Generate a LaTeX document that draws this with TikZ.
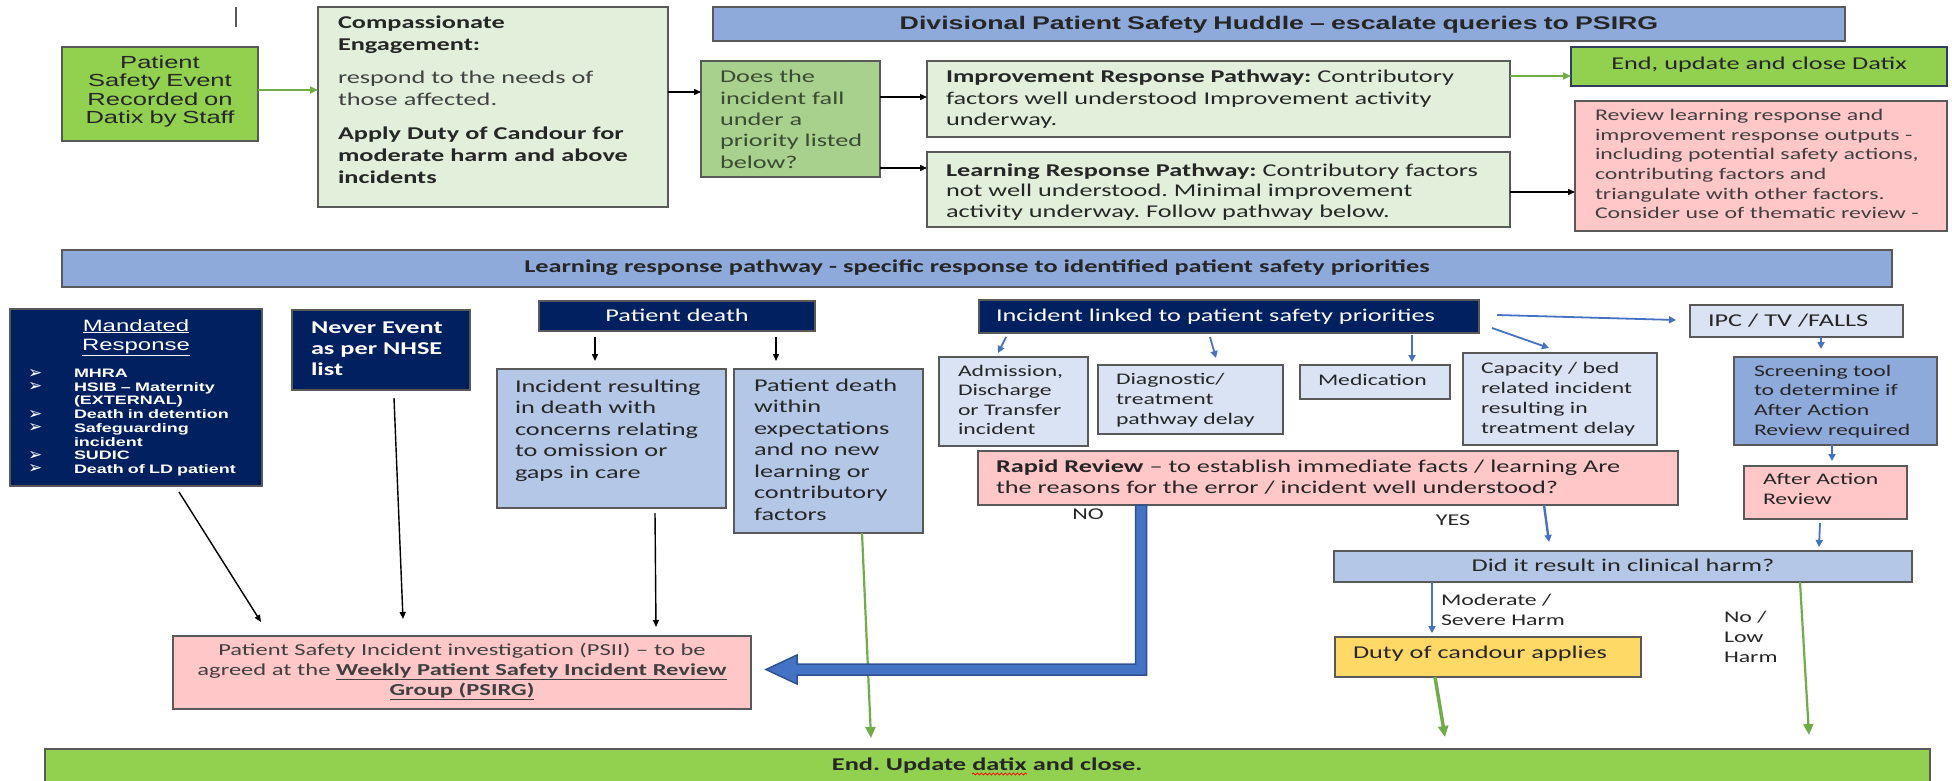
\documentclass[tikz,border=0pt]{standalone}
\usepackage{fontspec}
\usetikzlibrary{arrows.meta,calc,decorations.pathmorphing}
\setmainfont{Carlito}[FakeStretch=1.46]
\newfontfamily\arf{Liberation Sans}[FakeStretch=1.46]
\newfontfamily\djv{DejaVu Sans}
\newcommand\fsz[2]{\fontsize{#1}{#2}\selectfont}
\newcommand\blt{\smash{\djv\fsz{17}{17}➢}}
\frenchspacing
\definecolor{gfill}{HTML}{92D050}
\definecolor{lgfill}{HTML}{E2EFDA}
\definecolor{mgfill}{HTML}{A9D18E}
\definecolor{hblue}{HTML}{8EAADB}
\definecolor{lblue}{HTML}{B4C7E7}
\definecolor{vlblue}{HTML}{DAE3F3}
\definecolor{pinkf}{HTML}{FFC7C7}
\definecolor{yellowf}{HTML}{FFD966}
\definecolor{navy}{HTML}{002060}
\definecolor{bgray}{HTML}{595959}
\definecolor{endborder}{HTML}{2F3E5E}
\definecolor{arrgreen}{HTML}{70AD47}
\definecolor{arrblue}{HTML}{4472C4}
\definecolor{darkblue}{HTML}{2F528F}
\definecolor{tdark}{HTML}{262626}
\definecolor{tgray}{HTML}{404040}
\definecolor{tolive}{HTML}{3B4A33}
\begin{document}
\begin{tikzpicture}[x=1pt,y=-1pt,
  box/.style={draw=bgray, line width=1.6pt, inner sep=0pt, outer sep=0pt, anchor=north west},
  tl/.style={inner sep=0pt, outer sep=0pt, anchor=base west, align=left, text width=900pt},
  tc/.style={inner sep=0pt, outer sep=0pt, anchor=base, align=center, text width=#1},
  blk/.style={draw=black, line width=1.4pt, -{Triangle[length=7pt,width=6pt]}},
  grn/.style={draw=arrgreen, line width=1.8pt, -{Triangle[length=8pt,width=7pt]}},
  grnt/.style={draw=arrgreen, line width=#1, -{Triangle[length=11pt,width=10pt]}},
  blu/.style={draw=arrblue, line width=1.8pt, -{Triangle[length=7pt,width=7pt]}}]
\useasboundingbox (0,0) rectangle (1952,781);
\fill[white] (0,0) rectangle (1952,781);

\draw[bgray, line width=1.3pt] (236,7) -- (236,27);

% ---------- top row ----------
\node[box, fill=gfill, minimum width=196pt, minimum height=94pt] (pat) at (62,47) {};
\node[tc=196pt, text=tdark, font={\arf\fsz{17.5}{18.4}}] (patT) at (160,68.5) {Patient\\Safety Event\\Recorded on\\Datix by Staff};

\node[box, fill=lgfill, minimum width=350pt, minimum height=200pt] (comp) at (318,7) {};
\node[tl, text=tdark, font={\fsz{18}{22}}] (compT) at (338,29) {\textbf{Compassionate}\\\textbf{Engagement:}\\[11pt]\textcolor{tgray}{respond to the needs of}\\\textcolor{tgray}{those affected.}\\[12pt]\textbf{Apply Duty of Candour for}\\\textbf{moderate harm and above}\\\textbf{incidents}};

\node[box, fill=mgfill, minimum width=179pt, minimum height=116pt] (does) at (701,61) {};
\node[tl, text=tolive, font={\fsz{18}{21.3}}] (doesT) at (720,83) {Does the\\incident fall\\under a\\priority listed\\below?};

\node[box, fill=hblue, minimum width=1132pt, minimum height=34pt] (div) at (713,7) {};
\node[tc=1132pt, text=tdark, font={\arf\bfseries\fsz{18.3}{20}}] (divT) at (1279,29.5) {Divisional Patient Safety Huddle – escalate queries to PSIRG};

\node[box, fill=lgfill, minimum width=583pt, minimum height=76pt] (imp) at (927,61) {};
\node[tl, text=tdark, font={\fsz{18}{21.5}}] (impT) at (946,83) {\textbf{Improvement Response Pathway:} Contributory\\factors well understood Improvement activity\\underway.};

\node[box, fill=lgfill, minimum width=583pt, minimum height=75pt] (lrn) at (927,152) {};
\node[tl, text=tdark, font={\fsz{18}{20.5}}] (lrnT) at (946,176) {\textbf{Learning Response Pathway:} Contributory factors\\not well understood. Minimal improvement\\activity underway. Follow pathway below.};

\node[box, draw=endborder, fill=gfill, minimum width=376pt, minimum height=39pt] (endd) at (1571,47) {};
\node[tc=376pt, text=tdark, font={\fsz{18}{20}}] (enddT) at (1759,69.5) {End, update and close Datix};

\node[box, fill=pinkf, minimum width=372pt, minimum height=130pt] (rev) at (1575,101) {};
\node[tl, text=tgray, font={\fsz{16.3}{19.7}}] (revT) at (1595,120.5) {Review learning response and\\improvement response outputs -\\including potential safety actions,\\contributing factors and\\triangulate with other factors.\\Consider use of thematic review -};

% ---------- learning header ----------
\node[box, fill=hblue, minimum width=1830pt, minimum height=37pt] (lhd) at (62,250) {};
\node[tc=1830pt, text=tdark, font={\bfseries\fsz{18}{20}}] (lhdT) at (977,272.5) {Learning response pathway - specific response to identified patient safety priorities};

% ---------- mandated ----------
\node[box, fill=navy, minimum width=252pt, minimum height=177pt] (mand) at (10,309) {};
\node[tc=252pt, text=white, font={\arf\fsz{16.4}{19}}] (mandT) at (136,331) {\underline{Mandated}\\\underline{Response}};
\node[tl, text=white, font={\fsz{12.3}{13.7}}] (mandB) at (28,378) {\blt\\\blt\\\mbox{}\\\blt\\\blt\\\mbox{}\\\blt\\\blt};
\node[tl, text=white, font={\arf\bfseries\fsz{12.3}{13.7}}] (mandL) at (74,377.5) {MHRA\\HSIB – Maternity\\(EXTERNAL)\\Death in detention\\Safeguarding\\incident\\SUDIC\\Death of LD patient};

\node[box, fill=navy, minimum width=178pt, minimum height=80pt] (never) at (292,310) {};
\node[tl, text=white, font={\bfseries\fsz{18}{21}}] (neverT) at (311,333) {Never Event\\as per NHSE\\list};

% ---------- patient death ----------
\node[box, fill=navy, minimum width=276pt, minimum height=30pt] (pdh) at (539,301) {};
\node[tc=276pt, text=white, font={\fsz{18}{20}}] (pdhT) at (677,321.5) {Patient death};

\node[box, fill=lblue, minimum width=229pt, minimum height=139pt] (ird) at (497,369) {};
\node[tl, text=tdark, font={\fsz{18}{21.5}}] (irdT) at (515,392) {Incident resulting\\in death with\\concerns relating\\to omission or\\gaps in care};

\node[box, fill=lblue, minimum width=189pt, minimum height=164pt] (pdw) at (734,369) {};
\node[tl, text=tdark, font={\fsz{18}{21.5}}] (pdwT) at (754,391) {Patient death\\within\\expectations\\and no new\\learning or\\contributory\\factors};

% ---------- incident linked ----------
\node[box, fill=navy, minimum width=500pt, minimum height=33pt] (ilh) at (979,300) {};
\node[tl, text=white, font={\fsz{18}{20}}] (ilhT) at (996,321.5) {Incident linked to patient safety priorities};

\node[box, fill=vlblue, minimum width=149pt, minimum height=89pt] (adm) at (939,357) {};
\node[tl, text=tdark, font={\fsz{16.2}{19.6}}] (admT) at (958,376) {Admission,\\Discharge\\or Transfer\\incident};

\node[box, fill=vlblue, minimum width=185pt, minimum height=69pt] (diag) at (1098,365) {};
\node[tl, text=tdark, font={\fsz{16.2}{20}}] (diagT) at (1116,384) {Diagnostic/\\treatment\\pathway delay};

\node[box, fill=vlblue, minimum width=150pt, minimum height=34pt] (med) at (1300,365) {};
\node[tl, text=tdark, font={\fsz{16.2}{20}}] (medT) at (1318,385) {Medication};

\node[box, fill=vlblue, minimum width=194pt, minimum height=92pt] (cap) at (1463,353) {};
\node[tl, text=tdark, font={\fsz{16.2}{20}}] (capT) at (1481,373) {Capacity / bed\\related incident\\resulting in\\treatment delay};

\node[box, fill=vlblue, minimum width=213pt, minimum height=32pt] (ipc) at (1690,305) {};
\node[tl, text=tdark, font={\fsz{18}{20}}] (ipcT) at (1708,326.5) {IPC / TV /FALLS};

\node[box, fill=hblue, minimum width=203pt, minimum height=88pt] (scr) at (1734,357) {};
\node[tl, text=tdark, font={\fsz{16.2}{19.7}}] (scrT) at (1754,376) {Screening tool\\to determine if\\After Action\\Review required};

\node[box, fill=pinkf, minimum width=163pt, minimum height=53pt] (aar) at (1744,466) {};
\node[tl, text=tdark, font={\fsz{16.2}{20}}] (aarT) at (1763,484) {After Action\\Review};

\node[box, fill=pinkf, minimum width=700pt, minimum height=54pt] (rr) at (978,451) {};
\node[tl, text=tdark, font={\fsz{18}{21}}] (rrT) at (996,472.5) {\textbf{Rapid Review} – to establish immediate facts / learning Are\\the reasons for the error / incident well understood?};

\node[tc=60pt, text=tdark, font={\fsz{16.5}{20}}] (noL) at (1088,519.5) {NO};
\node[tc=60pt, text=tdark, font={\fsz{16.5}{20}}] (yesL) at (1453,525.5) {YES};

\node[box, fill=lblue, minimum width=578pt, minimum height=31pt] (did) at (1334,551) {};
\node[tc=578pt, text=tdark, font={\fsz{18}{20}}] (didT) at (1623,571.5) {Did it result in clinical harm?};

\node[tl, text=tdark, font={\fsz{16.3}{20}}] (modL) at (1441,605) {Moderate /\\Severe Harm};
\node[tl, text=tdark, font={\fsz{16.3}{20}}] (lowL) at (1724,622) {No /\\Low\\Harm};

\node[box, fill=yellowf, minimum width=306pt, minimum height=40pt] (duty) at (1335,637) {};
\node[tl, text=tdark, font={\fsz{18}{20}}] (dutyT) at (1353,658.5) {Duty of candour applies};

\node[box, fill=pinkf, minimum width=578pt, minimum height=73pt] (psii) at (173,636) {};
\node[tc=578pt, text=tgray, font={\fsz{16.8}{20}}] (psiiT) at (462,655) {Patient Safety Incident investigation (PSII) – to be\\agreed at the \textbf{\underline{Weekly Patient Safety Incident Review}}\\\textbf{\underline{Group (PSIRG)}}};

\node[box, fill=gfill, minimum width=1885pt, minimum height=50pt] (bot) at (45,749) {};
\node[inner sep=0pt, anchor=base, text=tdark, font={\bfseries\fsz{18}{20}}] (botD) at (999.5,770.5) {datix};
\node[inner sep=0pt, anchor=base east, text=tdark, font={\bfseries\fsz{18}{20}}] (botA) at ($(botD.base west)+(-5.9,0)$) {End. Update};
\node[inner sep=0pt, anchor=base west, text=tdark, font={\bfseries\fsz{18}{20}}] (botB) at ($(botD.base east)+(5.9,0)$) {and close.};
\draw[red, line width=0.8pt, decorate, decoration={snake, amplitude=1pt, segment length=4pt}] ($(botD.base west)+(0,3.5)$) -- ($(botD.base east)+(0,3.5)$);

% ---------- connectors ----------
\draw[grn] ($(pat.east)+(0,-4)$) -- ($(comp.west)+(0,-17)$);
\draw[blk] ($(comp.east)+(0,-15)$) -- ($(does.west)+(0,-27)$);
\draw[blk] ($(does.east)+(0,-22)$) -- ($(imp.west)+(0,-2)$);
\draw[blk] ($(does.east)+(0,49)$) -- ($(lrn.west)+(0,-21.5)$);
\draw[grn] ($(imp.east)+(0,-23)$) -- ($(endd.west)+(0,9.5)$);
\draw[blk] ($(lrn.east)+(0,2.5)$) -- ($(rev.west)+(0,26)$);
\draw[blk] ($(pdh.south)+(-82,6)$) -- ($(ird.north)+(-16.5,-8)$);
\draw[blk] ($(pdh.south)+(99,6)$) -- ($(pdw.north)+(-52.5,-8)$);
\draw[blu] ($(ilh.south)+(-223,4)$) -- ($(adm.north)+(-15.5,-4)$);
\draw[blu] ($(ilh.south)+(-19,4)$) -- ($(diag.north)+(25.5,-7)$);
\draw[blu] ($(ilh.south)+(183,2)$) -- ($(med.north)+(37,-3)$);
\draw[blu] ($(ilh.east)+(13,11.5)$) -- ($(cap.north)+(-11,-5)$);
\draw[blu] ($(ilh.east)+(18,-1.5)$) -- ($(ipc.west)+(-14,-1)$);
\draw[blu] ($(ipc.south)+(24.5,0)$) -- ($(scr.north)+(-14.5,-8)$);
\draw[blu] ($(scr.south)+(-3.5,0)$) -- ($(aar.north)+(6.5,-5)$);
\draw[blu] ($(aar.south)+(-5.5,4)$) -- ($(did.north)+(196,-4)$);
\draw[blu, line width=2.4pt] ($(rr.south)+(216,0)$) -- ($(did.north)+(-74,-9)$);
\draw[blu] ($(did.south)+(-191,0)$) -- ($(duty.north)+(-56,-4)$);
\draw[grnt=2.2pt] ($(did.south)+(177,0)$) -- ($(bot.north)+(821.5,-14)$);
\draw[grnt=3.5pt] ($(duty.south)+(-53,0)$) -- ($(bot.north)+(457.5,-12)$);
\draw[grnt=2.2pt] ($(pdw.south)+(33.5,0)$) -- ($(bot.north)+(-116.5,-11)$);
\draw[blk] ($(mand.south)+(43,6)$) -- ($(psii.north)+(-201,-14)$);
\draw[blk] ($(never.south)+(13,8)$) -- ($(psii.north)+(-59,-17)$);
\draw[blk] ($(ird.south)+(43.5,5)$) -- ($(psii.north)+(194,-9)$);

% thick blue block arrow from Rapid Review (NO) to PSII
\filldraw[fill=arrblue, draw=darkblue, line width=1.5pt, line join=miter]
  (1135.5,505) -- (1146.5,505) -- (1146.5,675) -- (797,675) -- (797,684)
  -- (766,669.5) -- (797,655) -- (797,664) -- (1135.5,664) -- cycle;
\end{tikzpicture}
\end{document}
